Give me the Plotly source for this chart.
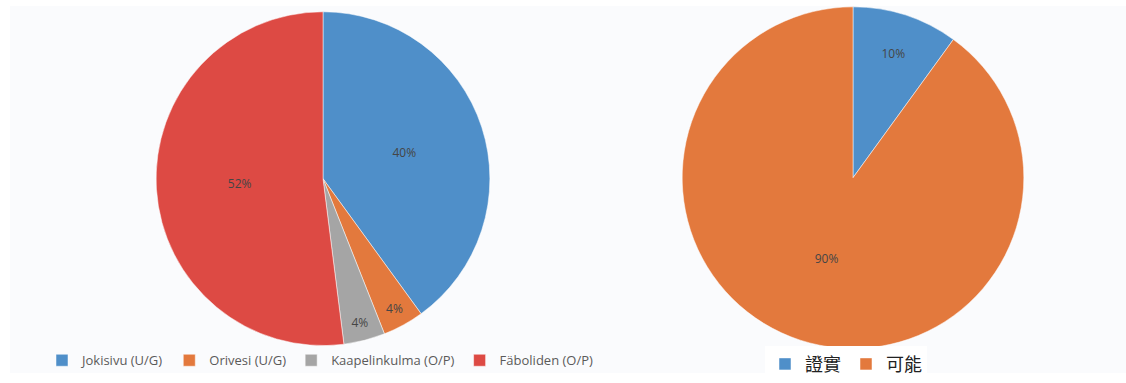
import plotly.graph_objects as go

# Left pie: mine sources
mine_labels = ["Jokisivu (U/G)", "Orivesi (U/G)", "Kaapelinkulma (O/P)", "Fäboliden (O/P)"]
mine_values = [40, 4, 4, 52]
mine_colors = ["#4F8FC9", "#E3793D", "#A5A5A5", "#DD4A44"]

# Right pie: confirmed vs possible
status_labels = ["證實", "可能"]
status_values = [10, 90]
status_colors = ["#4F8FC9", "#E3793D"]

W, H = 1126, 383

fig = go.Figure()

fig.add_trace(go.Pie(
    labels=mine_labels, values=mine_values,
    marker=dict(colors=mine_colors, line=dict(color="#FFFFFF", width=0.5)),
    sort=False, direction="clockwise", rotation=0,
    texttemplate="%{percent:.0%}", textposition="inside",
    insidetextorientation="horizontal",
    textfont=dict(family="Open Sans, DejaVu Sans", size=12, color="#454545"),
    domain=dict(x=[153 / W, 493 / W], y=[1 - 352 / H, 1 - 12 / H]),
    legend="legend", hoverinfo="label+percent",
))

fig.add_trace(go.Pie(
    labels=status_labels, values=status_values,
    marker=dict(colors=status_colors, line=dict(color="#FFFFFF", width=0.5)),
    sort=False, direction="clockwise", rotation=0,
    texttemplate="%{percent:.0%}", textposition="inside",
    insidetextorientation="horizontal",
    textfont=dict(family="Open Sans, DejaVu Sans", size=12, color="#454545"),
    domain=dict(x=[679 / W, 1027 / W], y=[1 - 355 / H, 1 - 7 / H]),
    legend="legend2", hoverinfo="label+percent",
))

fig.update_layout(
    width=W, height=H,
    margin=dict(l=0, r=0, t=0, b=0),
    paper_bgcolor="#FFFFFF",
    plot_bgcolor="#FFFFFF",
    showlegend=True,
    shapes=[dict(type="rect", xref="paper", yref="paper",
                 x0=10 / W, x1=1, y0=1 - 380 / H, y1=1 - 6 / H,
                 fillcolor="#FAFBFD", line=dict(width=0), layer="below")],
    legend=dict(
        orientation="h", x=42 / W, xanchor="left", y=1 - 367 / H, yanchor="middle",
        font=dict(family="Open Sans, DejaVu Sans", size=13, color="#5A5A5A"),
        bgcolor="rgba(0,0,0,0)", itemwidth=30, traceorder="normal",
    ),
    legend2=dict(
        orientation="h", x=846 / W, xanchor="center", y=1 - 371 / H, yanchor="middle",
        font=dict(family="Noto Sans CJK TC", size=18, color="#222222"),
        bgcolor="#FFFFFF", itemwidth=30, traceorder="normal",
    ),
)

fig.write_html("out.html")
